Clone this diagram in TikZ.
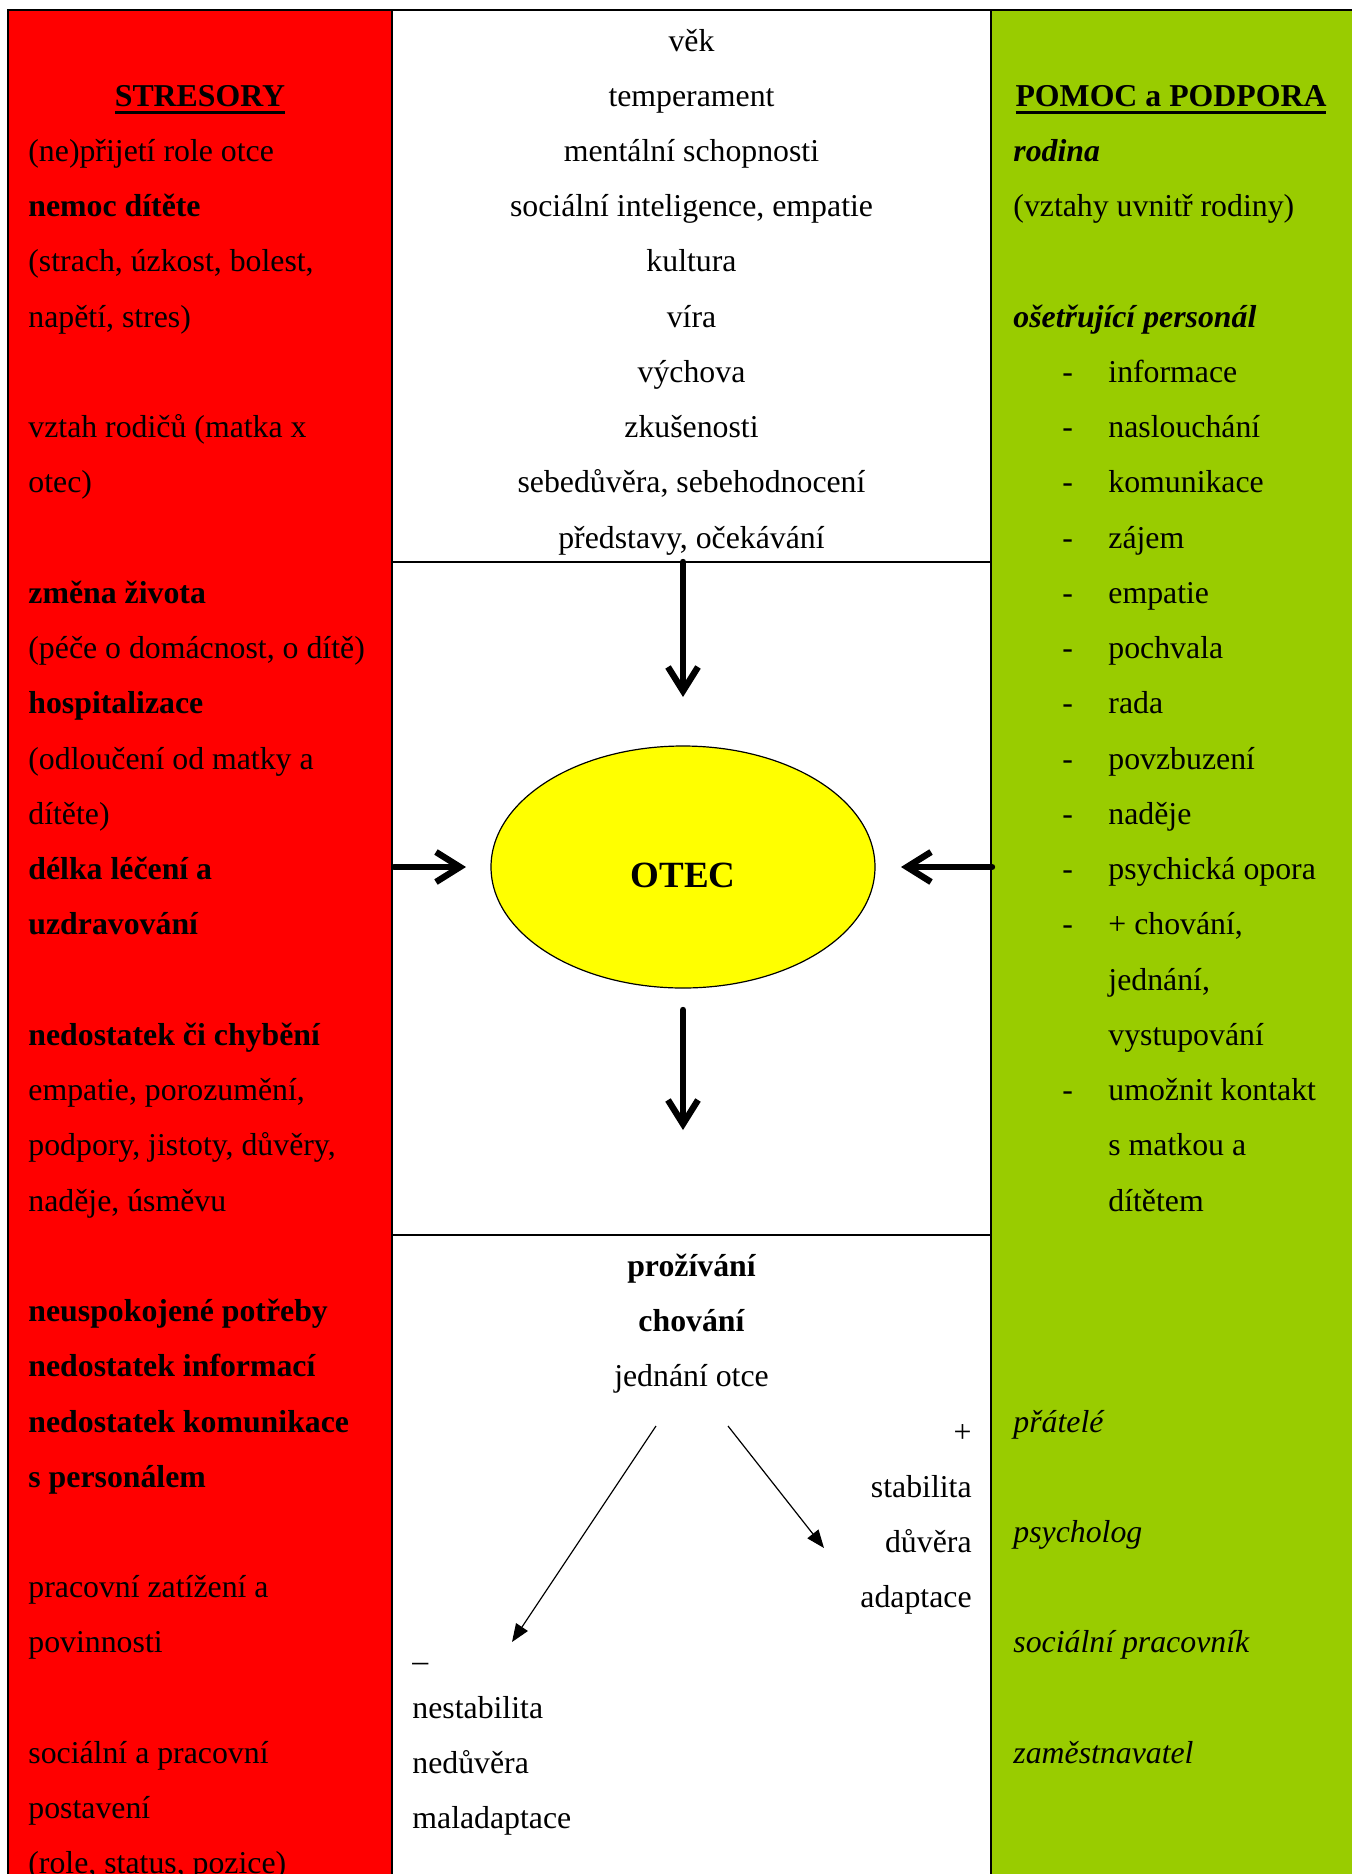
\documentclass[tikz,border=0pt]{standalone}
\usepackage{fontspec}
\setmainfont{Liberation Serif}
\usetikzlibrary{arrows.meta,shapes.geometric}
\definecolor{stresred}{RGB}{255,0,0}
\definecolor{podporagreen}{RGB}{153,204,0}
\definecolor{otecyellow}{RGB}{255,255,0}
\newcommand{\thickul}[1]{\setbox0\hbox{#1}\rlap{\rule[-3.75pt]{\wd0}{1.5pt}}\box0}
\tikzset{
  txt/.style={font=\fontsize{15.9}{19}\selectfont, inner sep=0pt, anchor=base west},
  txtc/.style={txt, anchor=base},
  txtr/.style={txt, anchor=base east},
  frame/.style={line width=1pt},
  bigarrow/.style={line width=3.2pt, line cap=round, -{Straight Barb[length=12pt,width=15pt]}},
  thinarrow/.style={line width=0.6pt, -{Triangle[length=9pt,width=7pt]}},
}
\begin{document}
\begin{tikzpicture}[x=0.5pt,y=-0.5pt]
    \useasboundingbox (0,0) rectangle (1351,1874);
    % columns
    \fill[stresred] (8,10) rectangle (392,1880);
    \fill[podporagreen] (991,10) rectangle (1360,1880);
    \draw[frame] (1360,10) -- (8,10) -- (8,1880);
    \draw[frame] (392,10) -- (392,1880);
    \draw[frame] (991,10) -- (991,1880);
    \draw[frame] (392,562) -- (991,562);
    \draw[frame] (392,1235) -- (991,1235);
    % stresory
    \node[txtc] (stresory) at (200,106.2) {\bfseries\thickul{STRESORY}};
    \foreach \n/\lbl [count=\i] in {2/{(ne)přijetí role otce}, 3/{\bfseries nemoc dítěte},
        4/{(strach, úzkost, bolest,}, 5/{napětí, stres)}, 7/{vztah rodičů (matka x}, 8/{otec)},
        10/{\bfseries změna života}, 11/{(péče o domácnost, o dítě)}, 12/{\bfseries hospitalizace},
        13/{(odloučení od matky a}, 14/{dítěte)}, 15/{\bfseries délka léčení a}, 16/{\bfseries uzdravování},
        18/{\bfseries nedostatek či chybění}, 19/{empatie, porozumění,}, 20/{podpory, jistoty, důvěry,},
        21/{naděje, úsměvu}, 23/{\bfseries neuspokojené potřeby}, 24/{\bfseries nedostatek informací},
        25/{\bfseries nedostatek komunikace}, 26/{\bfseries s personálem}, 28/{pracovní zatížení a},
        29/{povinnosti}, 31/{sociální a pracovní}, 32/{postavení}, 33/{(role, status, pozice)}}
        \node[txt] (s\i) at (28,51+55.24*\n) {\lbl};
    % faktory otce
    \foreach \n/\lbl in {0/věk, 1/temperament, 2/mentální schopnosti, 3/{sociální inteligence, empatie},
        4/kultura, 5/víra, 6/výchova, 7/zkušenosti, 8/{sebedůvěra, sebehodnocení}, 9/{představy, očekávání}}
        \node[txtc] (f\n) at (691.5,51+55.24*\n) {\lbl};
    % otec
    \node[ellipse, draw, line width=0.6pt, fill=otecyellow, inner sep=0pt,
        minimum width=192pt, minimum height=121pt] (otec) at (683,867) {};
    \node[txtc, font=\fontsize{18.5}{22}\selectfont\bfseries] (otecname) at (683,887) {OTEC};
    \coordinate (in1) at (683,562);
    \coordinate (in2) at (683,697);
    \coordinate (in3) at (394,867);
    \coordinate (in4) at (466,867);
    \coordinate (in5) at (992,867);
    \coordinate (in6) at (901,867);
    \coordinate (out1) at (683,1010);
    \coordinate (out2) at (683,1130);
    \draw[bigarrow] (in1) -- (in2);
    \draw[bigarrow] (in3) -- (in4);
    \draw[bigarrow] (in5) -- (in6);
    \draw[bigarrow] (out1) -- (out2);
    % prozivani
    \node[txtc] (r0) at (691.5,1276.5) {\bfseries prožívání};
    \node[txtc] (r1) at (691.5,1276.5+55.24) {\bfseries chování};
    \node[txtc] (r2) at (691.5,1276.5+55.24*2) {jednání otce};
    \foreach \n/\lbl in {3/+, 4/stabilita, 5/důvěra, 6/adaptace}
        \node[txtr] (p\n) at (972,1276.5+55.24*\n) {\lbl};
    \node[txt] (m7) at (412,1671) {–};
    \foreach \n/\lbl in {8/nestabilita, 9/nedůvěra, 10/maladaptace}
        \node[txt] (m\n) at (412,1276.5+55.24*\n) {\lbl};
    \coordinate (a1) at (656,1426);
    \coordinate (a2) at (512,1642);
    \coordinate (a3) at (728,1426);
    \coordinate (a4) at (824,1548);
    \draw[thinarrow] (a1) -- (a2);
    \draw[thinarrow] (a3) -- (a4);
    % pomoc a podpora
    \node[txtc] (pomoc) at (1171,106.2) {\bfseries\thickul{POMOC a PODPORA}};
    \foreach \n/\lbl in {2/{\bfseries\itshape rodina}, 3/{(vztahy uvnitř rodiny)},
        5/{\bfseries\itshape ošetřující personál}, 25/{\itshape přátelé}, 27/{\itshape psycholog},
        29/{\itshape sociální pracovník}, 31/{\itshape zaměstnavatel}}
        \node[txt] (g\n) at (1013,51+55.24*\n) {\lbl};
    \foreach \n/\lbl in {6/informace, 7/naslouchání, 8/komunikace, 9/zájem, 10/empatie, 11/pochvala,
        12/rada, 13/povzbuzení, 14/naděje, 15/psychická opora, 16/+ chování{,}, 19/umožnit kontakt}
        \node[txt] (d\n) at (1062,51+55.24*\n) {-}
            node[txt] (h\n) at (1108,51+55.24*\n) {\lbl};
    \foreach \n/\lbl in {17/{jednání,}, 18/vystupování, 20/s matkou a, 21/dítětem}
        \node[txt] (h\n) at (1108,51+55.24*\n) {\lbl};
\end{tikzpicture}
\end{document}
